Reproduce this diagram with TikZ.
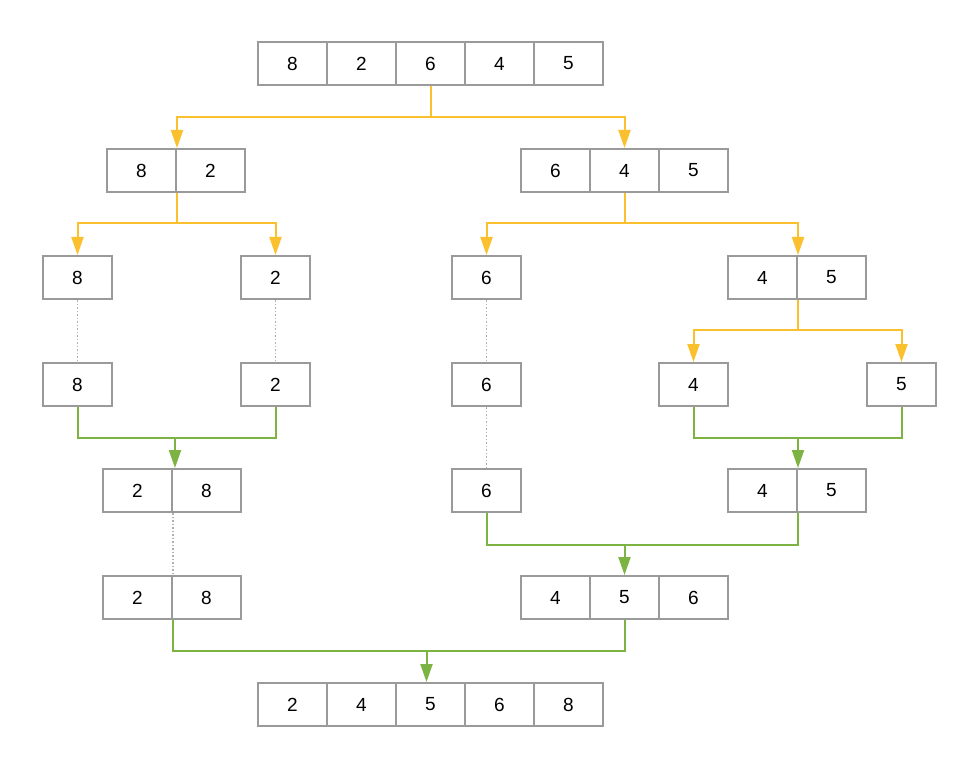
\documentclass[tikz,border=0pt]{standalone}
\usepackage{fontspec}
\setmainfont{Liberation Sans}
\usetikzlibrary{arrows.meta}
\definecolor{boxgray}{HTML}{9A9A9A}
\definecolor{splitorange}{HTML}{FBC02D}
\definecolor{mergegreen}{HTML}{7CB342}
\definecolor{dotgray}{HTML}{B0B0B0}
\begin{document}
\begin{tikzpicture}[x=1pt,y=-1pt,
  cell/.style={draw=boxgray,line width=2pt,minimum width=69pt,minimum height=43pt,inner sep=0pt,font=\fontsize{19}{19}\selectfont},
  split/.style={draw=splitorange,line width=2pt,-{Triangle[length=18pt,width=12pt]}},
  merge/.style={draw=mergegreen,line width=2pt,-{Triangle[length=18pt,width=12pt]}},
  mergeline/.style={draw=mergegreen,line width=2pt},
  keep/.style={draw=dotgray,line width=1.2pt,dash pattern=on 1.5pt off 2pt}]
\fill[white] (0,0) rectangle (980,770);
\useasboundingbox (0,0) rectangle (980,770);
% levels
\coordinate (lv1) at (0,117);
\coordinate (lv2) at (0,223);
\coordinate (lv3) at (0,330);
\coordinate (lv4) at (0,438);
\coordinate (lv5) at (0,545);
\coordinate (lv6) at (0,651);
% row 1
\node[cell] (r1c1) at (292.5,63.5) {8};
\node[cell] (r1c2) at (361.5,63.5) {2};
\node[cell] (r1c3) at (430.5,63.5) {6};
\node[cell] (r1c4) at (499.5,63.5) {4};
\node[cell] (r1c5) at (568.5,63.5) {5};
% row 2
\node[cell] (r2L1) at (141.5,170.5) {8};
\node[cell] (r2L2) at (210.5,170.5) {2};
\node[cell] (r2R1) at (555.5,170.5) {6};
\node[cell] (r2R2) at (624.5,170.5) {4};
\node[cell] (r2R3) at (693.5,170.5) {5};
% row 3
\node[cell] (r3a) at (77.5,277.5) {8};
\node[cell] (r3b) at (275.5,277.5) {2};
\node[cell] (r3c) at (486.5,277.5) {6};
\node[cell] (r3d1) at (762.5,277.5) {4};
\node[cell] (r3d2) at (831.5,277.5) {5};
% row 4
\node[cell] (r4a) at (77.5,384.5) {8};
\node[cell] (r4b) at (275.5,384.5) {2};
\node[cell] (r4c) at (486.5,384.5) {6};
\node[cell] (r4d) at (693.5,384.5) {4};
\node[cell] (r4e) at (901.5,384.5) {5};
% row 5
\node[cell] (r5a1) at (137.5,490.5) {2};
\node[cell] (r5a2) at (206.5,490.5) {8};
\node[cell] (r5c) at (486.5,490.5) {6};
\node[cell] (r5d1) at (762.5,490.5) {4};
\node[cell] (r5d2) at (831.5,490.5) {5};
% row 6
\node[cell] (r6a1) at (137.5,597.5) {2};
\node[cell] (r6a2) at (206.5,597.5) {8};
\node[cell] (r6b1) at (555.5,597.5) {4};
\node[cell] (r6b2) at (624.5,597.5) {5};
\node[cell] (r6b3) at (693.5,597.5) {6};
% row 7
\node[cell] (r7c1) at (292.5,704.5) {2};
\node[cell] (r7c2) at (361.5,704.5) {4};
\node[cell] (r7c3) at (430.5,704.5) {5};
\node[cell] (r7c4) at (499.5,704.5) {6};
\node[cell] (r7c5) at (568.5,704.5) {8};
% splits
\draw[split] (r1c3.south) |- (r2L1.north east |- lv1) -- (r2L1.north east);
\draw[split] (r1c3.south) |- (r2R2.north |- lv1) -- (r2R2.north);
\draw[split] (r2L1.south east) |- (r3a.north |- lv2) -- (r3a.north);
\draw[split] (r2L1.south east) |- (r3b.north |- lv2) -- (r3b.north);
\draw[split] (r2R2.south) |- (r3c.north |- lv2) -- (r3c.north);
\draw[split] (r2R2.south) |- (r3d1.north east |- lv2) -- (r3d1.north east);
\draw[split] (r3d1.south east) |- (r4d.north |- lv3) -- (r4d.north);
\draw[split] (r3d1.south east) |- (r4e.north |- lv3) -- (r4e.north);
% kept single elements
\draw[keep] (r3a.south) -- (r4a.north);
\draw[keep] (r3b.south) -- (r4b.north);
\draw[keep] (r3c.south) -- (r4c.north);
\draw[keep] (r4c.south) -- (r5c.north);
\draw[keep] (r5a1.south east) -- (r6a1.north east);
% merges
\coordinate (m1) at ([xshift=2pt]r5a1.north east);
\draw[mergeline] (r4a.south) |- (m1 |- lv4) -| (r4b.south);
\draw[merge] (m1 |- lv4) -- (m1);
\draw[mergeline] (r4d.south) |- (r5d1.north east |- lv4) -| (r4e.south);
\draw[merge] (r5d1.north east |- lv4) -- (r5d1.north east);
\draw[mergeline] (r5c.south) |- (r6b2.north |- lv5) -| (r5d1.south east);
\draw[merge] (r6b2.north |- lv5) -- (r6b2.north);
\coordinate (m4) at ([xshift=-4pt]r7c3.north);
\draw[mergeline] (r6a1.south east) |- (m4 |- lv6) -| (r6b2.south);
\draw[merge] (m4 |- lv6) -- (m4);
\end{tikzpicture}
\end{document}
